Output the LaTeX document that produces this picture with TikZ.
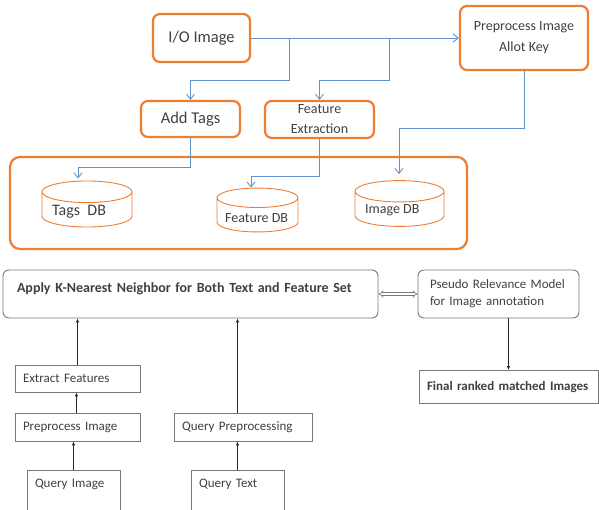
\documentclass[tikz,border=0pt]{standalone}
\usepackage{fontspec}
\setmainfont{Carlito}
\usetikzlibrary{arrows.meta, positioning, shapes.geometric}

\definecolor{boxorange}{RGB}{237,125,49}
\definecolor{flowblue}{RGB}{98,146,206}
\definecolor{inkgray}{RGB}{64,64,64}
\definecolor{framegray}{RGB}{120,120,120}

\begin{document}
\begin{tikzpicture}[
    x=1pt, y=-1pt,
    obox/.style={rectangle, rounded corners=7pt, draw=boxorange, line width=2.2pt,
                 text=inkgray, align=center, inner sep=2pt},
    store/.style={cylinder, shape border rotate=90, shape aspect=0.24, draw=boxorange,
                  line width=0.9pt, inner ysep=12pt, anchor=shape center},
    dbtext/.style={text=inkgray, inner sep=0pt, anchor=west},
    gbox/.style={rectangle, draw=framegray, line width=0.9pt, text=inkgray,
                 align=left, inner xsep=8pt, font=\fontsize{13}{17}\selectfont},
    bflow/.style={-{Straight Barb[length=5pt,width=8pt]}, draw=flowblue, line width=0.9pt},
    kflow/.style={-{Latex[length=4pt,width=3.5pt]}, draw=black!85, line width=0.8pt},
    twoway/.style={{Implies}-{Implies}, draw=framegray, double, double distance=2pt, line width=0.6pt}
]
\clip (0,0) rectangle (599,510);
\useasboundingbox (0,0) rectangle (599,510);

% Indexing part
\node[obox, minimum width=97pt, minimum height=48pt, font=\fontsize{16.5}{20}\selectfont] (io) at (201.5,38) {I/O Image};
\node[obox, minimum width=128pt, minimum height=64pt, font=\fontsize{14}{21}\selectfont] (prep) at (524,38) {Preprocess Image\\Allot Key};
\node[obox, minimum width=99pt, minimum height=36pt, font=\fontsize{16.5}{20}\selectfont] (tags) at (190.5,119) {Add Tags};
\node[obox, minimum width=109pt, minimum height=37pt, font=\fontsize{14}{20}\selectfont] (feat) at (319.5,119.5) {Feature\\Extraction};

% Databases
\node[rectangle, rounded corners=10pt, draw=boxorange, line width=2.2pt,
      minimum width=457pt, minimum height=92pt] (dbarea) at (238.5,203) {};
\node[store, inner xsep=45pt] (tagsdb) at (87,204) {};
\node[store, inner xsep=40.5pt] (featdb) at (257.5,210) {};
\node[store, inner xsep=44.5pt] (imgdb) at (399.5,203.5) {};
\node[dbtext, font=\fontsize{16}{18}\selectfont] (tagsdbtext) at (52,212) {Tags\ \ DB};
\node[dbtext, font=\fontsize{14}{16}\selectfont] (featdbtext) at (225,218) {Feature DB};
\node[dbtext, font=\fontsize{14}{16}\selectfont] (imgdbtext) at (365,210) {Image DB};

% Blue flow
\coordinate (s1) at (289,38);
\coordinate (s2) at (389,38);
\draw[bflow] (io.east) -- (io.east -| prep.west);
\draw[bflow] (s1) -- ++(0,42) -| (tags.north);
\draw[bflow] (s2) -- ++(0,42) -| (feat.north);
\draw[bflow] (prep.south) -- ++(0,57) -| ([xshift=-0.5pt, yshift=6pt]imgdb.north);
\draw[bflow] (tags.south) -- ++(0,29) -| ([xshift=-9pt, yshift=2pt]tagsdb.north);
\draw[bflow] (feat.south) -- ++(0,37) -| ([xshift=-6.5pt]featdb.north);

% Retrieval part
\node[gbox, rounded corners=6pt, minimum width=375pt, minimum height=48pt, inner xsep=14pt,
      text width=347pt, text depth=12pt, font=\fontsize{14}{17}\selectfont\bfseries] (knn) at (190.5,294)
      {Apply K-Nearest Neighbor for Both Text and Feature Set};
\node[gbox, rounded corners=6pt, minimum width=161pt, minimum height=48pt, inner xsep=12pt,
      text width=137pt] (pseudo) at (498.5,294) {Pseudo Relevance Model\\for Image annotation};
\node[gbox, minimum width=179pt, minimum height=33pt, text width=163pt,
      font=\fontsize{13}{17}\selectfont\bfseries] (final) at (508.5,387) {Final ranked matched Images};
\node[gbox, minimum width=125pt, minimum height=27pt, text width=109pt] (extract) at (77.5,378.5) {Extract Features};
\node[gbox, minimum width=125pt, minimum height=28pt, text width=109pt] (prepimg) at (77.5,427) {Preprocess Image};
\node[gbox, minimum width=138pt, minimum height=28pt, text width=122pt] (qprep) at (243,427) {Query Preprocessing};
\node[gbox, minimum width=93pt, minimum height=50pt, text width=77pt, text depth=24pt] (qimg) at (73.5,495) {Query Image};
\node[gbox, minimum width=93pt, minimum height=50pt, text width=77pt, text depth=24pt] (qtext) at (237.5,495) {Query Text};

% Black flow
\draw[kflow] (qimg.north) -- (qimg.north |- prepimg.south);
\draw[kflow] ([xshift=-1pt]prepimg.north) -- ([xshift=-1pt]extract.south);
\draw[kflow] (extract.north) -- (extract.north |- knn.south);
\draw[kflow] (qtext.north) -- (qtext.north |- qprep.south);
\draw[kflow] (qtext.north |- qprep.north) -- (qtext.north |- knn.south);
\draw[kflow] (final.north |- pseudo.south) -- (final.north);
\draw[twoway] (knn.east) -- (pseudo.west);

\end{tikzpicture}
\end{document}
